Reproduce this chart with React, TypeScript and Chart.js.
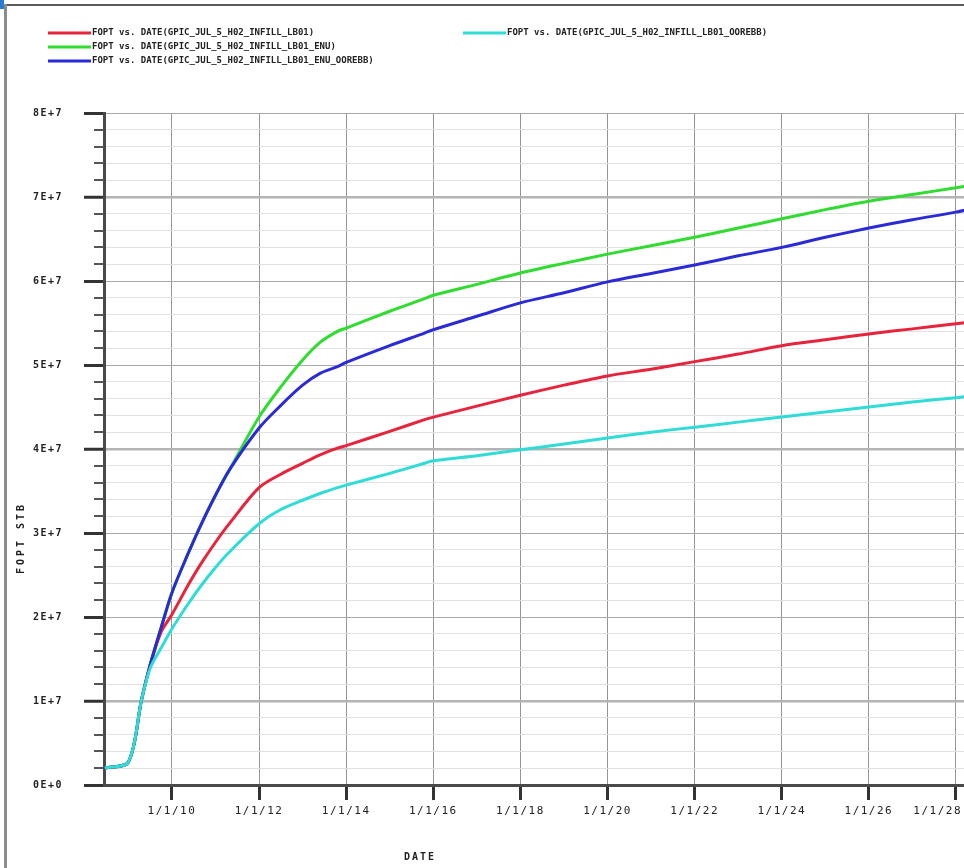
import { useEffect, useRef } from "react";
import { Chart, registerables } from "chart.js";

Chart.register(...registerables);

// ---- data ----
const years = [
  2008.46, 2009.0, 2009.3, 2009.5, 2009.75, 2010.0, 2010.35, 2010.65, 2011.0, 2011.33,
  2012.0, 2012.5, 2013.0, 2013.4, 2013.8, 2014.0, 2015.0, 2015.8, 2016.0, 2017.0,
  2018.0, 2019.0, 2020.0, 2021.0, 2022.0, 2023.0, 2024.0, 2025.0, 2026.0, 2027.0,
  2028.0, 2028.5,
];

const seriesLabels = [
  "FOPT vs. DATE(GPIC_JUL_5_H02_INFILL_LB01)",
  "FOPT vs. DATE(GPIC_JUL_5_H02_INFILL_LB01_ENU)",
  "FOPT vs. DATE(GPIC_JUL_5_H02_INFILL_LB01_ENU_OOREBB)",
  "FOPT vs. DATE(GPIC_JUL_5_H02_INFILL_LB01_OOREBB)",
];

const seriesColors = ["#e8243c", "#2fdc2f", "#2a2ad6", "#2fdcd6"];

// values in millions of STB
const redValues = [
  2.02, 2.74, 10.1, 14.3, 18.2, 20.3, 23.6, 26.2, 28.9, 31.2,
  35.4, 37.0, 38.3, 39.3, 40.1, 40.4, 42.1, 43.5, 43.8, 45.1,
  46.4, 47.6, 48.7, 49.5, 50.4, 51.3, 52.3, 53.0, 53.7, 54.3,
  54.9, 55.2,
];
const greenValues = [
  2.02, 2.74, 10.1, 14.3, 18.7, 22.9, 27.3, 30.8, 34.5, 37.6,
  43.8, 47.4, 50.6, 52.7, 54.0, 54.4, 56.4, 57.9, 58.3, 59.6,
  60.95, 62.1, 63.2, 64.2, 65.2, 66.3, 67.4, 68.5, 69.5, 70.3,
  71.1, 71.5,
];
const blueValues = [
  2.02, 2.74, 10.1, 14.3, 18.7, 22.9, 27.3, 30.8, 34.5, 37.6,
  42.5, 45.2, 47.6, 49.0, 49.8, 50.3, 52.3, 53.8, 54.2, 55.8,
  57.4, 58.6, 59.9, 60.9, 61.9, 63.0, 64.0, 65.2, 66.3, 67.3,
  68.2, 68.8,
];
const cyanValues = [
  2.02, 2.74, 10.1, 13.9, 16.3, 18.6, 21.4, 23.6, 25.9, 27.8,
  31.1, 32.8, 33.9, 34.7, 35.4, 35.7, 37.1, 38.3, 38.6, 39.2,
  39.9, 40.6, 41.3, 42.0, 42.6, 43.2, 43.8, 44.4, 45.0, 45.6,
  46.1, 46.4,
];

const xTickValues = [2010, 2012, 2014, 2016, 2018, 2020, 2022, 2024, 2026, 2028];
const xTickLabels = ["1/1/10", "1/1/12", "1/1/14", "1/1/16", "1/1/18", "1/1/20", "1/1/22", "1/1/24", "1/1/26", "1/1/28"];
const yTickValues = [0, 1e7, 2e7, 3e7, 4e7, 5e7, 6e7, 7e7, 8e7];
const yTickLabels = ["0E+0", "1E+7", "2E+7", "3E+7", "4E+7", "5E+7", "6E+7", "7E+7", "8E+7"];
const yMinorStep = 2e6;
const xMin = 2008.44;
const xMax = 2029.24;
const xAxisTitle = "DATE";
const yAxisTitle = "FOPT STB";

const allSeries = [redValues, greenValues, blueValues, cyanValues];
const drawOrder = [2, 3, 1, 0];

function buildYTicks() {
  const out: number[] = [];
  for (let i = 0; i < yTickValues.length; i++) {
    out.push(yTickValues[i]);
    if (i < yTickValues.length - 1) {
      for (let k = 1; k < 5; k++) out.push(yTickValues[i] + k * yMinorStep);
    }
  }
  return out;
}
const yAllTicks = buildYTicks();
const isMajor = (v: number) => yTickValues.indexOf(v) >= 0;
const heavyMajor = [1e7, 4e7, 7e7];
const VISIBLE_RIGHT = 962;

const decorPlugin = {
  id: "decor",
  beforeDraw(chart: any) {
    const ctx = chart.ctx;
    (ctx as any).letterSpacing = "1.5px";
    // keep the last x label inside the visible frame
    const xs = chart.scales.x;
    const items = xs.getLabelItems();
    if (items && items.length) {
      const last = items[items.length - 1];
      ctx.save();
      ctx.font = last.font.string;
      const w = ctx.measureText(String(last.label)).width;
      ctx.restore();
      const tx = last.options.translation[0];
      if (tx + w / 2 > VISIBLE_RIGHT) {
        last.options.textAlign = "right";
        last.options.translation = [VISIBLE_RIGHT, last.options.translation[1]];
      }
    }
  },
  afterDraw(chart: any) {
    const ctx = chart.ctx;
    const y = chart.scales.y;
    const left = chart.chartArea.left;
    ctx.save();
    // minor y ticks
    ctx.strokeStyle = "#555";
    ctx.lineWidth = 2;
    yAllTicks.forEach((v) => {
      if (isMajor(v)) return;
      const py = Math.round(y.getPixelForValue(v));
      ctx.beginPath();
      ctx.moveTo(left - 10, py);
      ctx.lineTo(left, py);
      ctx.stroke();
    });
    // axis titles
    ctx.fillStyle = "#222";
    (ctx as any).letterSpacing = "2px";
    ctx.font = "bold 10px 'DejaVu Sans Mono'";
    ctx.textAlign = "center";
    ctx.textBaseline = "middle";
    ctx.fillText(xAxisTitle, 420, 857);
    ctx.save();
    ctx.translate(21, 538);
    ctx.rotate(-Math.PI / 2);
    (ctx as any).letterSpacing = "3px";
    ctx.fillText(yAxisTitle, 0, 0);
    ctx.restore();
    // legend
    const slots = [
      { x: 48, y: 33 },
      { x: 48, y: 47 },
      { x: 48, y: 61 },
      { x: 463, y: 33 },
    ];
    (ctx as any).letterSpacing = "0px";
    ctx.font = "bold 9px 'DejaVu Sans Mono'";
    ctx.textAlign = "left";
    chart.data.datasets.forEach((ds: any, i: number) => {
      const s = slots[i];
      ctx.strokeStyle = ds.borderColor;
      ctx.lineWidth = 3;
      ctx.beginPath();
      ctx.moveTo(s.x, s.y);
      ctx.lineTo(s.x + 43, s.y);
      ctx.stroke();
      ctx.fillStyle = "#222";
      ctx.fillText(ds.label, s.x + 44, s.y);
    });
    ctx.restore();
  },
};

export default function App() {
  const ref = useRef<HTMLCanvasElement | null>(null);

  useEffect(() => {
    const canvas = ref.current;
    if (!canvas) return;
    const chart = new Chart(canvas, {
      type: "line",
      data: {
        datasets: allSeries.map((vals, i) => ({
          label: seriesLabels[i],
          data: vals.map((v, j) => ({ x: years[j], y: v * 1e6 })),
          borderColor: seriesColors[i],
          backgroundColor: seriesColors[i],
          borderWidth: 3,
          pointRadius: 0,
          fill: false,
          tension: 0.3,
          order: drawOrder[i],
        })),
      },
      options: {
        animation: false,
        responsive: false,
        maintainAspectRatio: false,
        layout: { padding: { top: 113, left: 0, right: 0, bottom: 0 } },
        plugins: {
          legend: { display: false },
          tooltip: { enabled: false },
          title: { display: false },
        },
        scales: {
          x: {
            type: "linear",
            min: xMin,
            max: xMax,
            afterBuildTicks: (s: any) => {
              s.ticks = xTickValues.map((v) => ({ value: v }));
            },
            afterFit: (s: any) => {
              s.height = 83;
            },
            ticks: {
              callback: (_v: any, i: number) => xTickLabels[i],
              font: { family: "'DejaVu Sans Mono'", size: 11 },
              color: "#222",
              padding: 5,
              maxRotation: 0,
              autoSkip: false,
            },
            grid: {
              color: "#949494",
              lineWidth: 1,
              tickColor: "#333",
              tickWidth: 3,
              tickLength: 15,
            },
            border: { display: true, color: "#4a4a4a", width: 3 },
          },
          y: {
            type: "linear",
            min: 0,
            max: 8e7,
            afterBuildTicks: (s: any) => {
              s.ticks = yAllTicks.map((v) => ({ value: v }));
            },
            afterFit: (s: any) => {
              s.width = 104;
            },
            ticks: {
              callback: (v: any) => {
                const i = yTickValues.indexOf(v);
                return i >= 0 ? yTickLabels[i] : "";
              },
              font: { family: "'DejaVu Sans Mono'", size: 10, weight: "bold" },
              color: "#222",
              padding: 21,
              autoSkip: false,
            },
            grid: {
              color: (c: any) =>
                heavyMajor.indexOf(c.tick?.value) >= 0
                  ? "#b4b4b4"
                  : isMajor(c.tick?.value)
                  ? "#a8a8a8"
                  : "#e2e2e2",
              lineWidth: (c: any) => (heavyMajor.indexOf(c.tick?.value) >= 0 ? 2.5 : 1),
              tickColor: (c: any) => (isMajor(c.tick?.value) ? "#333" : "rgba(0,0,0,0)"),
              tickWidth: 3,
              tickLength: 20,
            },
            border: { display: true, color: "#4a4a4a", width: 3 },
          },
        },
      },
      plugins: [decorPlugin],
    });
    return () => chart.destroy();
  }, []);

  return (
    <div
      style={{
        position: "fixed",
        left: 0,
        top: 0,
        width: 964,
        height: 868,
        overflow: "hidden",
        background: "#fff",
      }}
    >
      <canvas ref={ref} width={1010} height={868} style={{ position: "absolute", left: 0, top: 0 }} />
      <div style={{ position: "absolute", left: 5, top: 4, width: 959, height: 2, background: "#5a5a5a" }} />
      <div style={{ position: "absolute", left: 4, top: 4, width: 3, height: 864, background: "#8c8c8c" }} />
      <div style={{ position: "absolute", left: 0, top: 0, width: 4, height: 9, background: "#2a7bd4" }} />
    </div>
  );
}
